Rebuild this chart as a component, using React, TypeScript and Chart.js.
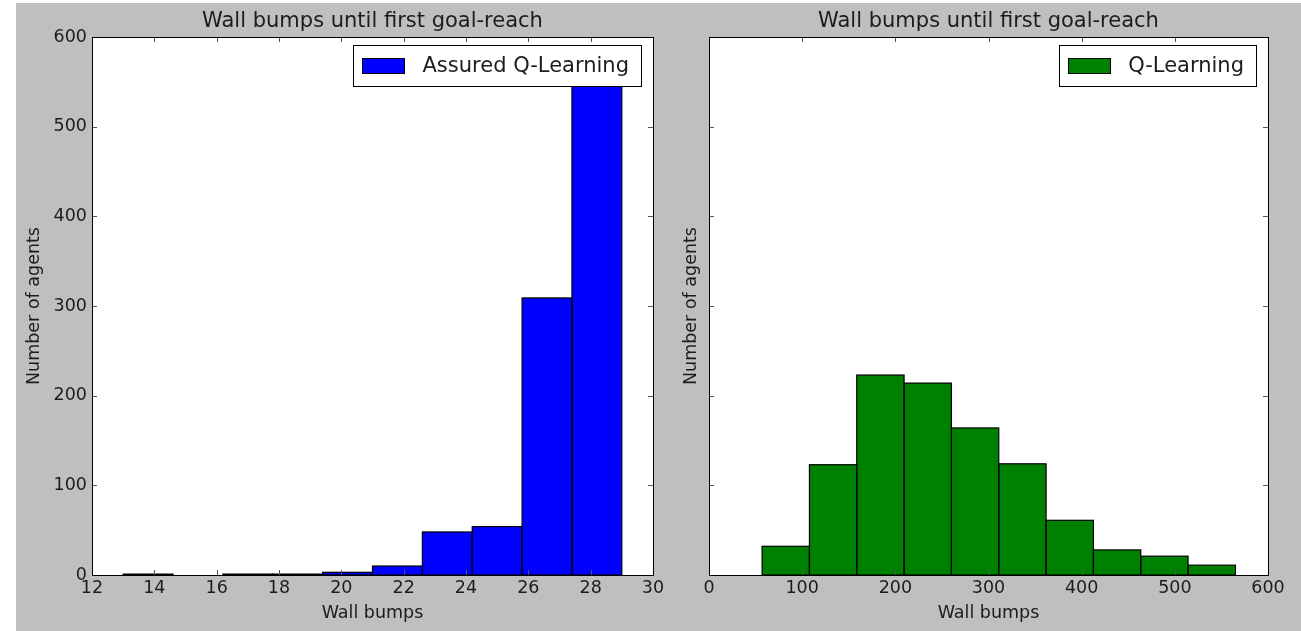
import React, { useEffect, useRef } from "react";
import { Chart, registerables } from "chart.js";

Chart.register(...registerables);

// ---------- data ----------
const chartTitle = "Wall bumps until first goal-reach";
const xLabel = "Wall bumps";
const yLabel = "Number of agents";

const aqlLabel = "Assured Q-Learning";
const aqlEdges = [13, 14.6, 16.2, 17.8, 19.4, 21, 22.6, 24.2, 25.8, 27.4, 29];
const aqlCounts = [1, 0, 1, 1, 3, 10, 48, 54, 309, 573];
const aqlXTicks = { min: 12, max: 30, step: 2 };

const qlLabel = "Q-Learning";
const qlEdges = [57, 107.8, 158.6, 209.4, 260.2, 311, 361.8, 412.6, 463.4, 514.2, 565];
const qlCounts = [32, 123, 223, 214, 164, 124, 61, 28, 21, 11];
const qlXTicks = { min: 0, max: 600, step: 100 };

const yTicks = { min: 0, max: 600, step: 100 };

const FONT = "'DejaVu Sans', sans-serif";
const TEXT = "#1c1c1c";
const BG = "#bfbfbf";

function toPoints(edges: number[], counts: number[]) {
  return counts.map((c, i) => ({ x: (edges[i] + edges[i + 1]) / 2, y: c }));
}

const framePlugin = {
  id: "frameTicks",
  beforeDatasetsDraw(chart: any) {
    const { ctx, chartArea: a } = chart;
    ctx.save();
    ctx.fillStyle = "#ffffff";
    ctx.fillRect(a.left, a.top, a.right - a.left, a.bottom - a.top);
    ctx.restore();
  },
  afterDatasetsDraw(chart: any) {
    const { ctx } = chart;
    ctx.save();
    ctx.strokeStyle = "#000";
    ctx.lineWidth = 1.2;
    chart.getDatasetMeta(0).data.forEach((el: any, i: number) => {
      const v = chart.data.datasets[0].data[i].y;
      if (!v) return;
      const l = el.x - el.width / 2;
      const top = Math.min(el.y, el.base);
      const h = Math.abs(el.base - el.y);
      ctx.strokeRect(l, top, el.width, h);
    });
    ctx.restore();
  },
  afterDraw(chart: any) {
    const { ctx, chartArea: a, scales } = chart;
    const L = 5;
    ctx.save();
    ctx.strokeStyle = "#555";
    ctx.lineWidth = 1;
    ctx.beginPath();
    scales.x.ticks.forEach((t: any) => {
      const px = Math.round(scales.x.getPixelForValue(t.value)) + 0.5;
      ctx.moveTo(px, a.bottom);
      ctx.lineTo(px, a.bottom - L);
      ctx.moveTo(px, a.top);
      ctx.lineTo(px, a.top + L);
    });
    scales.y.ticks.forEach((t: any) => {
      const py = Math.round(scales.y.getPixelForValue(t.value)) + 0.5;
      ctx.moveTo(a.left, py);
      ctx.lineTo(a.left + L, py);
      ctx.moveTo(a.right, py);
      ctx.lineTo(a.right - L, py);
    });
    ctx.stroke();
    ctx.strokeStyle = "#000";
    ctx.strokeRect(Math.round(a.left) + 0.5, Math.round(a.top) + 0.5, Math.round(a.right - a.left), Math.round(a.bottom - a.top));
    // title
    const opts = chart.options.plugins.customTitle;
    ctx.fillStyle = TEXT;
    ctx.font = `21px ${FONT}`;
    ctx.textAlign = "center";
    ctx.textBaseline = "middle";
    ctx.fillText(opts.text, (a.left + a.right) / 2, a.top - 15);
    // legend
    const lg = chart.options.plugins.customLegend;
    ctx.font = `21px ${FONT}`;
    const tw = ctx.measureText(lg.text).width;
    const w = 9 + 42 + 18 + tw + 12;
    const h = 41;
    const right = a.right - 12;
    const top = a.top + 8;
    const left = right - w;
    ctx.fillStyle = "#fff";
    ctx.fillRect(left, top, w, h);
    ctx.strokeStyle = "#000";
    ctx.strokeRect(Math.round(left) + 0.5, Math.round(top) + 0.5, Math.round(w), h);
    ctx.fillStyle = lg.color;
    ctx.fillRect(Math.round(left) + 9, top + 13, 42, 15);
    ctx.strokeRect(Math.round(left) + 9.5, top + 13.5, 42, 15);
    ctx.fillStyle = TEXT;
    ctx.textAlign = "left";
    ctx.fillText(lg.text, left + 9 + 42 + 18, top + h / 2 + 1);
    ctx.restore();
  },
};

function makeConfig(
  label: string,
  edges: number[],
  counts: number[],
  color: string,
  xt: { min: number; max: number; step: number },
  showYTicks: boolean,
  yTitlePad: number,
  yWidth: number,
  padRight: number
): any {
  return {
    type: "bar",
    data: {
      datasets: [
        {
          label,
          data: toPoints(edges, counts),
          backgroundColor: color,
          borderWidth: 0,
          inflateAmount: 0,
          barPercentage: 1,
          categoryPercentage: 1,
        },
      ],
    },
    options: {
      responsive: false,
      animation: false,
      events: [],
      layout: { padding: { left: 0, right: padRight, top: 34, bottom: 0 } },
      plugins: {
        legend: { display: false },
        title: { display: false },
        tooltip: { enabled: false },
        customTitle: { text: chartTitle },
        customLegend: { text: label, color },
      },
      scales: {
        x: {
          type: "linear",
          offset: false,
          min: xt.min,
          max: xt.max,
          grid: { display: false, drawTicks: false, tickLength: 0, offset: false },
          border: { display: false },
          ticks: {
            stepSize: xt.step,
            padding: 3,
            color: TEXT,
            font: { family: FONT, size: 17.5 },
            maxRotation: 0,
            autoSkip: false,
          },
          title: {
            display: true,
            text: xLabel,
            color: TEXT,
            font: { family: FONT, size: 17.5 },
            padding: { top: 0, bottom: 7.5 },
          },
          afterFit(s: any) {
            s.height = 56;
            s.paddingLeft = 0;
            s.paddingRight = 0;
          },
        },
        y: {
          min: yTicks.min,
          max: yTicks.max,
          grid: { display: false, drawTicks: false, tickLength: 0 },
          border: { display: false },
          ticks: {
            display: showYTicks,
            stepSize: yTicks.step,
            padding: 5,
            color: TEXT,
            font: { family: FONT, size: 17.5 },
          },
          title: {
            display: true,
            text: yLabel,
            color: TEXT,
            font: { family: FONT, size: 17.5 },
            padding: { top: yTitlePad, bottom: 0 },
          },
          afterFit(s: any) {
            s.width = yWidth;
            s.paddingTop = 0;
            s.paddingBottom = 0;
          },
        },
      },
    },
    plugins: [framePlugin],
  };
}

function ChartCanvas(props: { config: any; left: number; width: number }) {
  const ref = useRef<HTMLCanvasElement | null>(null);
  useEffect(() => {
    if (!ref.current) return;
    const c = new Chart(ref.current, props.config);
    return () => c.destroy();
  }, []);
  return (
    <canvas
      ref={ref}
      width={props.width}
      height={628}
      style={{ position: "absolute", left: props.left, top: 3, width: props.width, height: 628 }}
    />
  );
}

export default function App() {
  const cfg1 = makeConfig(aqlLabel, aqlEdges, aqlCounts, "#0000ff", aqlXTicks, true, 7.5, 76, 43);
  const cfg2 = makeConfig(qlLabel, qlEdges, qlCounts, "#008000", qlXTicks, false, 24.5, 53, 33);
  return (
    <div style={{ position: "fixed", left: 0, top: 0, width: 1301, height: 631, background: "#fff", overflow: "hidden" }}>
      <div style={{ position: "absolute", left: 16, top: 3, width: 1285, height: 628, background: BG }} />
      <ChartCanvas config={cfg1} left={16} width={680} />
      <ChartCanvas config={cfg2} left={656} width={645} />
    </div>
  );
}
